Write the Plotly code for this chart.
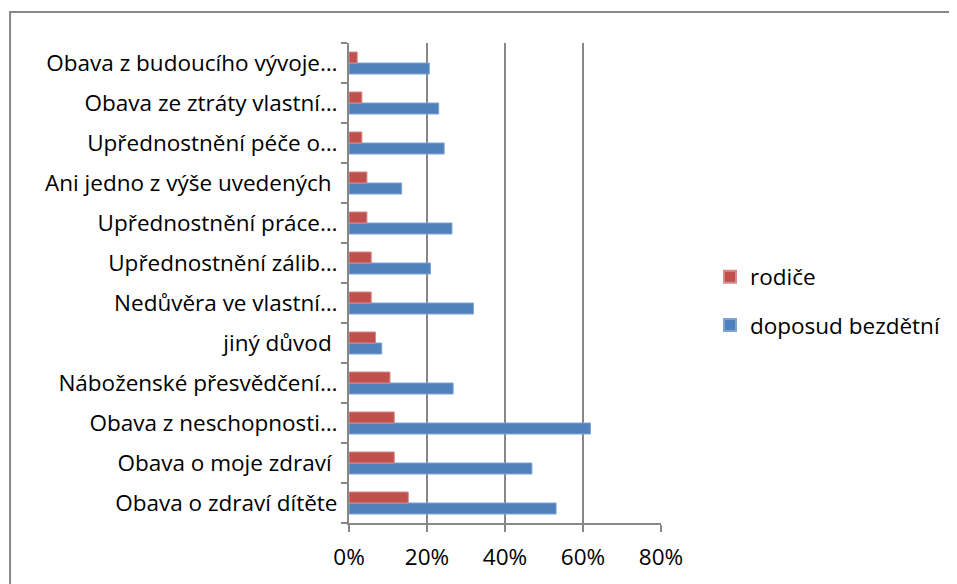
import plotly.graph_objects as go

categories = [
    "Obava o zdraví dítěte",
    "Obava o moje zdraví\u00a0",
    "Obava z neschopnosti…",
    "Náboženské přesvědčení…",
    "jiný důvod\u00a0",
    "Nedůvěra ve vlastní…",
    "Upřednostnění zálib…",
    "Upřednostnění práce…",
    "Ani jedno z výše uvedených\u00a0",
    "Upřednostnění péče o…",
    "Obava ze ztráty vlastní…",
    "Obava z budoucího vývoje…",
]
rodice = [0.152, 0.116, 0.116, 0.105, 0.068, 0.057, 0.057, 0.046, 0.046, 0.033, 0.033, 0.021]
bezdetni = [0.531, 0.469, 0.619, 0.267, 0.084, 0.319, 0.209, 0.264, 0.135, 0.244, 0.230, 0.206]
x_ticks = [0, 0.2, 0.4, 0.6, 0.8]
x_tick_labels = ["0%", "20%", "40%", "60%", "80%"]

FONT = "'Open Sans', sans-serif"
FS = 22.5

# page has an 8px body offset
OFF = 8
W, H = 957 - OFF, 584 - OFF
px0, px1 = 349 - OFF, 662 - OFF   # plot area left/right in figure coords
py0, py1 = 43 - OFF, 523 - OFF    # plot area top/bottom in figure coords
L, R, T, B = px0, W - px1, py0, H - py1
pw, ph = px1 - px0, py1 - py0

def fx(x):  # page x -> paper
    return (x - OFF - px0) / pw

def fy(y):  # page y -> paper
    return (py1 - (y - OFF)) / ph

fig = go.Figure()
fig.add_trace(go.Bar(y=categories, x=bezdetni, orientation="h", name="doposud bezdětní",
                     legendgroup="b", legendrank=2,
                     marker=dict(color="#4F81BD", line=dict(color="#7FA3D3", width=1))))
fig.add_trace(go.Bar(y=categories, x=rodice, orientation="h", name="rodiče",
                     legendgroup="r", legendrank=1,
                     marker=dict(color="#C0504D", line=dict(color="#D88A88", width=1))))

fig.update_layout(
    width=W, height=H,
    margin=dict(l=L, r=R, t=T, b=B),
    paper_bgcolor="white", plot_bgcolor="white",
    barmode="group", bargap=0.45, bargroupgap=0,
    font=dict(family=FONT, size=FS, color="#000000"),
    showlegend=True,
    legend=dict(x=fx(710), y=fy(301), xanchor="left", yanchor="middle",
                traceorder="grouped", font=dict(size=FS, family=FONT),
                itemsizing="constant", tracegroupgap=16, bgcolor="rgba(0,0,0,0)",
                itemwidth=30),
    xaxis=dict(range=[0, 0.8], tickvals=x_ticks, ticktext=x_tick_labels,
               showgrid=True, gridcolor="#878787", gridwidth=2,
               showline=True, linecolor="#878787", linewidth=2,
               ticks="outside", ticklen=7, tickcolor="#878787", tickwidth=2,
               ticklabelstandoff=6,
               zeroline=False, tickfont=dict(size=FS, family=FONT)),
    yaxis=dict(type="category", categoryorder="array", categoryarray=categories,
               showgrid=False, showline=True, linecolor="#878787", linewidth=2,
               ticks="outside", ticklen=6, tickcolor="#878787", tickwidth=2,
               ticklabelstandoff=5,
               tickson="boundaries", zeroline=False, automargin=False,
               tickfont=dict(size=FS, family=FONT)),
    shapes=[dict(type="rect", xref="paper", yref="paper",
                 x0=fx(9), x1=fx(975), y0=fy(600), y1=fy(12),
                 line=dict(color="#878787", width=2), fillcolor="rgba(0,0,0,0)", layer="below")],
)

fig.write_html("out.html")
